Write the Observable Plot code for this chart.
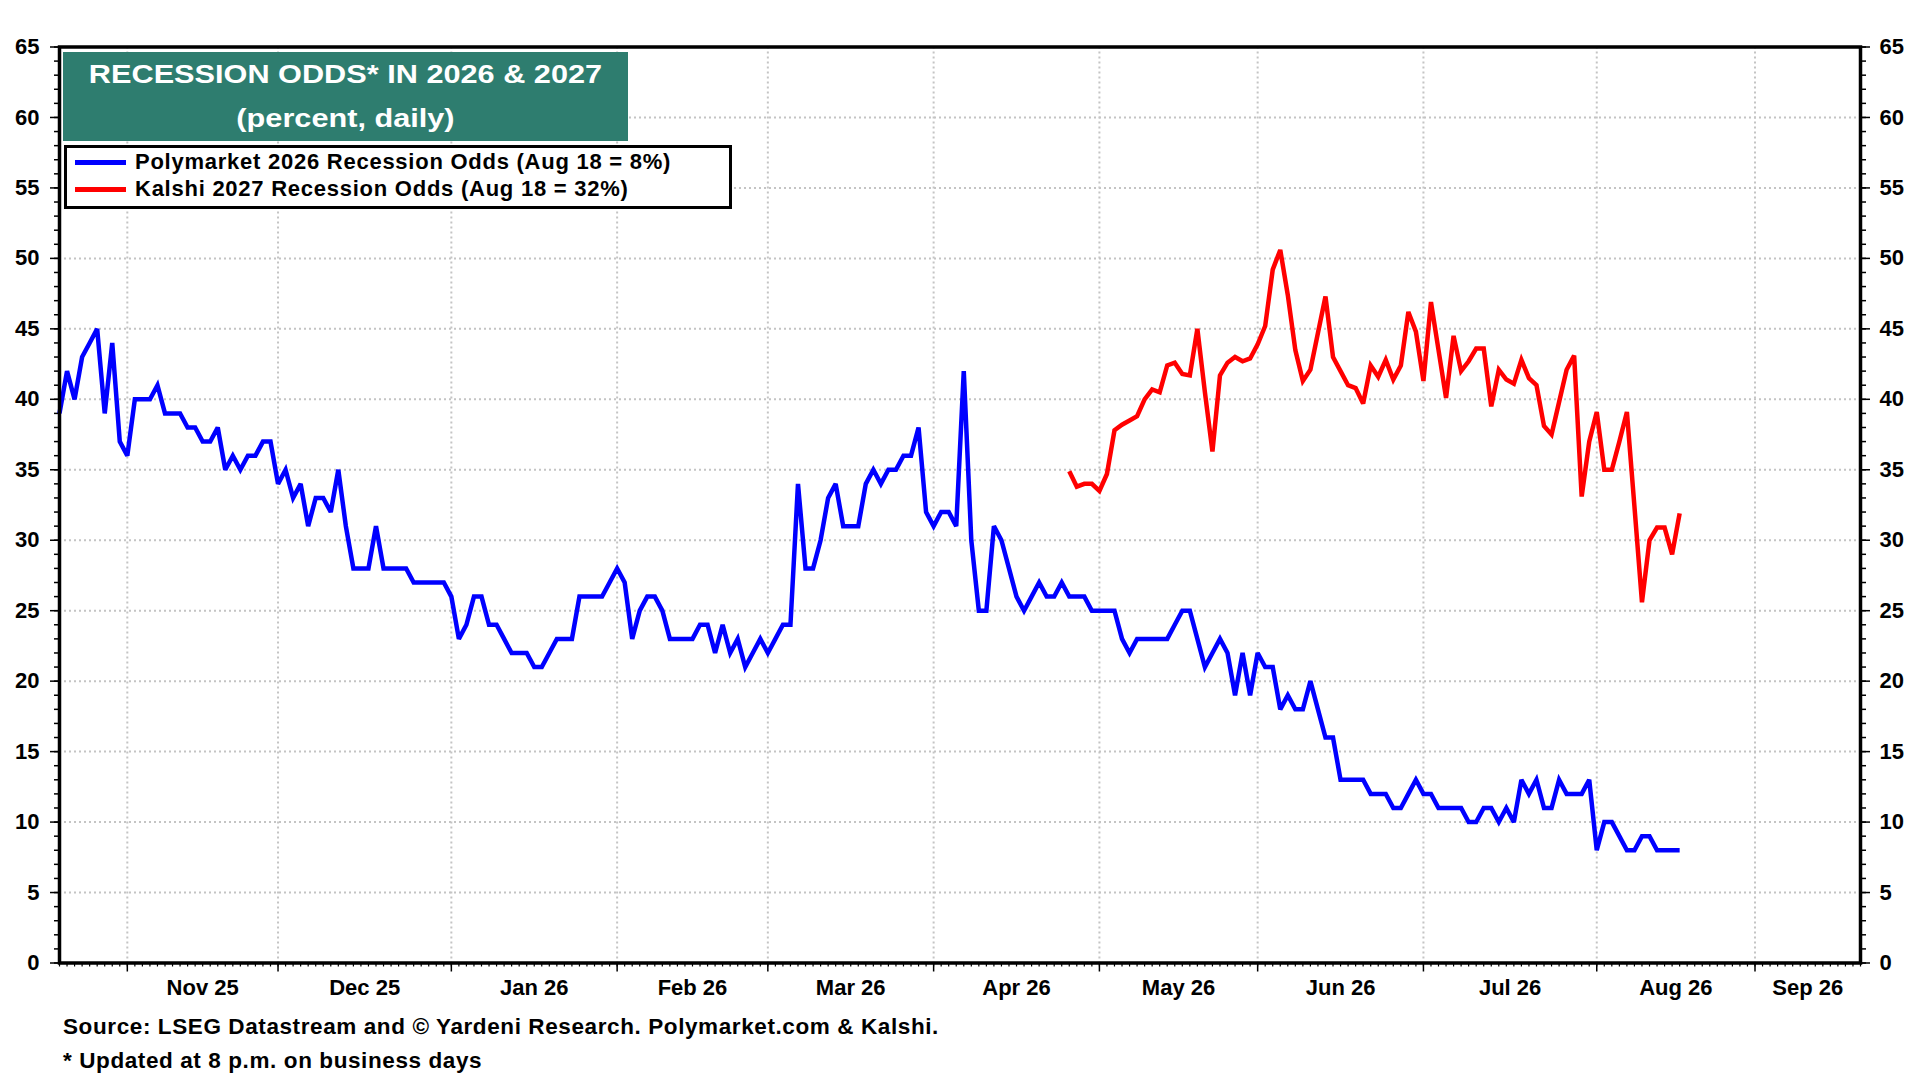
<!DOCTYPE html>
<html>
<head>
<meta charset="utf-8">
<script src="https://cdn.jsdelivr.net/npm/d3@7"></script>
<script src="https://cdn.jsdelivr.net/npm/@observablehq/plot@0.6"></script>
<style>
  html, body { margin: 0; padding: 0; background: #fff; }
  #wrap { position: relative; width: 1920px; height: 1080px; overflow: hidden; font-family: "Liberation Sans", Arial, sans-serif; font-weight: bold; }
  #chart { position: absolute; left: 0; top: 0; }
  #title { position: absolute; left: 63px; top: 52px; width: 565px; height: 89px; background: #2e7d6f; color: #fff; text-align: center; font-size: 26px; line-height: 44px; }
  #title span { display: inline-block; transform: scaleX(1.18); transform-origin: center; }
  #legend { position: absolute; left: 64px; top: 145px; width: 668px; height: 64px; border: 3px solid #000; background: #fff; box-sizing: border-box; font-size: 22px; letter-spacing: 0.75px; }
  .row { position: absolute; left: 0; height: 27px; line-height: 27px; white-space: nowrap; }
  .sw { position: absolute; left: 8px; top: 12px; width: 51px; height: 5px; }
  .lt { position: absolute; left: 68px; top: 0; }
  .note { position: absolute; left: 63px; font-size: 22.5px; letter-spacing: 0.6px; line-height: 24px; white-space: nowrap; color: #000; }
</style>
</head>
<body>
<div id="wrap">
  <div id="chart"></div>
  <div id="title"></div>
  <div id="legend"></div>
  <div class="note" id="src" style="top:1015px"></div>
  <div class="note" id="foot" style="top:1049px"></div>
</div>
<script>
// ---------------- DATA ----------------
const titleLines = ["RECESSION ODDS* IN 2026 & 2027", "(percent, daily)"];
const seriesNames = ["Polymarket 2026 Recession Odds (Aug 18 = 8%)", "Kalshi 2027 Recession Odds (Aug 18 = 32%)"];
const seriesColors = ["#0000ff", "#ff0000"];
const sourceText = "Source: LSEG Datastream and \u00a9 Yardeni Research. Polymarket.com & Kalshi.";
const footText = "* Updated at 8 p.m. on business days";

// x axis: business days
const axisStart = "2025-10-21";
const axisEnd = "2026-09-21";
const monthLabels = ["Nov 25", "Dec 25", "Jan 26", "Feb 26", "Mar 26", "Apr 26", "May 26", "Jun 26", "Jul 26", "Aug 26", "Sep 26"];
const yTicks = [0, 5, 10, 15, 20, 25, 30, 35, 40, 45, 50, 55, 60, 65];

// Polymarket 2026 recession odds, one value per business day from 2025-10-21
const polyStart = "2025-10-21";
const polymarket2026 = [
  39,42,40,43,44,45,39,44,37,
  36,40,40,40,41,39,39,39,38,38,
  37,37,38,35,36,35,36,36,37,37,
  34,35,33,34,31,33,33,32,35,31,
  28,28,28,31,28,28,28,28,27,27,
  27,27,27,26,23,24,26,26,24,24,
  23,22,22,22,21,21,22,23,23,23,
  26,26,26,26,27,28,27,23,25,26,
  26,25,23,23,23,23,24,24,22,24,
  22,23,21,22,23,22,23,24,24,34,
  28,28,30,33,34,31,31,31,34,35,
  34,35,35,36,36,38,32,31,32,32,
  31,42,30,25,25,31,30,28,26,25,
  26,27,26,26,27,26,26,26,25,25,
  25,25,23,22,23,23,23,23,23,24,
  25,25,23,21,22,23,22,19,22,19,
  22,21,21,18,19,18,18,20,18,16,
  16,13,13,13,13,12,12,12,11,11,
  12,13,12,12,11,11,11,11,10,10,
  11,11,10,11,10,13,12,13,11,11,
  13,12,12,12,13,8,10,10,9,8,
  8,9,9,8,8,8,8
];

// Kalshi 2027 recession odds, one value per business day from 2026-04-27
const kalshiStart = "2026-04-27";
const kalshi2027 = [
  34.9,33.8,34.0,34.0,33.5,34.7,37.8,38.2,38.5,38.8,
  40.0,40.7,40.5,42.4,42.6,41.8,41.7,45.0,40.5,36.3,
  41.7,42.6,43.0,42.7,42.9,43.9,45.2,49.2,50.6,47.4,
  43.5,41.3,42.1,44.7,47.3,43.0,42.0,41.0,40.8,39.7,
  42.4,41.6,42.8,41.4,42.4,46.2,44.8,41.3,46.9,43.5,
  40.1,44.5,42.0,42.7,43.6,43.6,39.5,42.1,41.4,41.1,
  42.8,41.5,41.0,38.1,37.5,39.8,42.1,43.1,33.1,37.0,
  39.1,35.0,35.0,37.0,39.1,32.4,25.6,30.0,30.9,30.9,
  29.0,31.9
];

// ---------------- BUILD ----------------
const parse = d3.utcParse("%Y-%m-%d");
const bdays = d3.utcDay.range(parse(axisStart), d3.utcDay.offset(parse(axisEnd), 1))
  .filter(d => d.getUTCDay() !== 0 && d.getUTCDay() !== 6);
const idxOf = s => bdays.findIndex(d => +d === +parse(s));
const lastIdx = bdays.length - 1;

const monthStarts = [];
bdays.forEach((d, i) => { if (i > 0 && d.getUTCMonth() !== bdays[i - 1].getUTCMonth()) monthStarts.push(i); });
const labelRows = monthStarts.map((s, k) => ({
  x: (s + (k + 1 < monthStarts.length ? monthStarts[k + 1] : lastIdx)) / 2,
  label: monthLabels[k]
}));

const p0 = idxOf(polyStart), k0 = idxOf(kalshiStart);
const polyRows = polymarket2026.map((v, i) => ({x: p0 + i, y: v}));
const kalRows = kalshi2027.map((v, i) => ({x: k0 + i, y: v}));
const allIdx = d3.range(0, lastIdx + 1);
const minorY = d3.range(0, 66, 1);
const gridStyle = {stroke: "#c4c4c4", strokeOpacity: 1, strokeWidth: 2, strokeDasharray: "2,3"};
const lineStyle = {x: "x", y: "y", strokeWidth: 4.5, strokeLinejoin: "miter", strokeMiterlimit: 3, strokeLinecap: "butt"};

const chart = Plot.plot({
  width: 1920,
  height: 1010,
  marginLeft: 59,
  marginRight: 60,
  marginTop: 46.5,
  marginBottom: 47.5,
  style: {fontFamily: "'Liberation Sans', Arial, sans-serif", fontSize: "22px", fontWeight: "bold", color: "#000", background: "#fff"},
  x: {type: "linear", domain: [0, lastIdx], axis: null},
  y: {type: "linear", domain: [0, 65], axis: null},
  marks: [
    Plot.gridY(yTicks.filter(t => t > 0 && t < 65), gridStyle),
    Plot.gridX(monthStarts, gridStyle),
    // y axes: minor and major ticks, labels
    Plot.axisY(minorY, {anchor: "left", label: null, tickSize: 5, tickFormat: () => "", strokeWidth: 1.5}),
    Plot.axisY(yTicks, {anchor: "left", label: null, tickSize: 9, tickPadding: 11, strokeWidth: 1.5}),
    Plot.axisY(minorY, {anchor: "right", label: null, tickSize: 5, tickFormat: () => "", strokeWidth: 1.5}),
    Plot.axisY(yTicks, {anchor: "right", label: null, tickSize: 9, tickPadding: 10, textAnchor: "start", strokeWidth: 1.5}),
    // x axis: business-day ticks and month ticks
    Plot.axisX(allIdx, {anchor: "bottom", label: null, tickSize: 4, tickFormat: () => "", strokeWidth: 1.2}),
    Plot.axisX(monthStarts, {anchor: "bottom", label: null, tickSize: 9, tickFormat: () => "", strokeWidth: 1.5}),
    Plot.text(labelRows, {x: "x", text: "label", frameAnchor: "bottom", dy: 25, lineAnchor: "middle", fontSize: 22, fontWeight: "bold", fill: "#000"}),
    // series
    Plot.line(polyRows, {...lineStyle, stroke: seriesColors[0]}),
    Plot.line(kalRows, {...lineStyle, stroke: seriesColors[1]}),
    Plot.frame({stroke: "#000", strokeWidth: 3.5})
  ]
});
document.getElementById("chart").appendChild(chart);

// overlays
document.getElementById("title").innerHTML = titleLines.map(t => `<div><span>${t.replace(/&/g, "&amp;")}</span></div>`).join("");
document.getElementById("legend").innerHTML = seriesNames.map((n, i) =>
  `<div class="row" style="top:${i === 0 ? 0 : 27}px"><div class="sw" style="background:${seriesColors[i]}"></div><div class="lt">${n}</div></div>`).join("");
document.getElementById("src").textContent = sourceText;
document.getElementById("foot").textContent = footText;
</script>
</body>
</html>
